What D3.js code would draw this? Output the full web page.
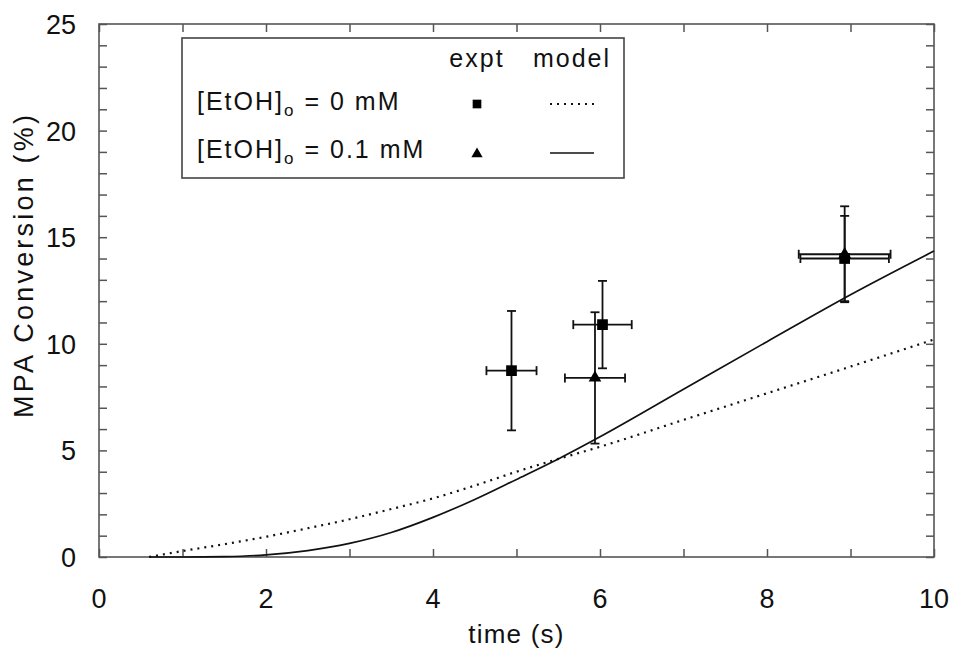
<!DOCTYPE html>
<html lang="en">
<head>
  <meta charset="UTF-8" />
  <title>MPA Conversion vs time</title>
  <script src="https://d3js.org/d3.v7.min.js"></script>
  <style>
    html, body {
      margin: 0;
      overflow: hidden;
      background-color: #ffffff;
      font-family: 'Liberation Sans', Arial, sans-serif;
    }
    svg {
      display: block;
    }
    .tick-label {
      font-size: 27px;
      fill: #111;
    }
    .axis-label {
      font-size: 26px;
      fill: #111;
    }
    .legend-text {
      font-size: 25px;
      letter-spacing: 2px;
      fill: #111;
    }
  </style>
</head>
<body>
  <div id="chart"></div>

  <script>
    // model curves
    const modelTime0 = [0.6, 1, 1.5, 2, 2.5, 3, 3.5, 4, 4.5, 5, 5.5, 6, 7, 8, 9, 10];
    const modelConv0 = [0, 0.28, 0.6, 0.95, 1.35, 1.77, 2.25, 2.75, 3.35, 4.0, 4.6, 5.17, 6.43, 7.68, 8.93, 10.2];
    const modelTime1 = [0.6, 1, 1.5, 2, 2.5, 3, 3.5, 4, 4.5, 5, 5.5, 6, 7, 8, 9, 10];
    const modelConv1 = [0, 0, 0.02, 0.1, 0.3, 0.64, 1.15, 1.86, 2.7, 3.64, 4.6, 5.64, 7.87, 10.1, 12.3, 14.35];

    // experimental points, [EtOH]o = 0 mM (squares)
    const exptTime0 = [4.94, 6.03, 8.93];
    const exptConv0 = [8.74, 10.9, 14.0];
    const exptTimeErr0 = [0.3, 0.35, 0.53];
    const exptConvErr0 = [2.8, 2.05, 2.0];

    // experimental points, [EtOH]o = 0.1 mM (triangles)
    const exptTime1 = [5.94, 8.93];
    const exptConv1 = [8.4, 14.2];
    const exptTimeErr1 = [0.36, 0.55];
    const exptConvErr1 = [3.08, 2.25];

    const xTicks = d3.range(0, 11, 1);
    const yTicks = d3.range(0, 26, 1);
    const xLabels = [0, 2, 4, 6, 8, 10];
    const yLabels = [0, 5, 10, 15, 20, 25];

    const width = 954, height = 651;
    const margin = { top: 24, right: 20, bottom: 94, left: 99 };
    const innerWidth = width - margin.left - margin.right;
    const innerHeight = height - margin.top - margin.bottom;

    const svg = d3.select("#chart").append("svg")
      .attr("width", width)
      .attr("height", height);

    const g = svg.append("g")
      .attr("transform", `translate(${margin.left},${margin.top})`);

    const xScale = d3.scaleLinear().domain([0, 10]).range([0, innerWidth]);
    const yScale = d3.scaleLinear().domain([0, 25]).range([innerHeight, 0]);

    const frameColor = "#555";
    const tickLen = 8;

    // inward ticks on all four sides, no d3 labels (drawn separately)
    function tickOnly(a) {
      a.select(".domain").remove();
      a.selectAll("text").remove();
    }
    g.append("g").attr("class", "x-axis")
      .attr("transform", `translate(0,${innerHeight})`)
      .call(d3.axisBottom(xScale).tickValues(xTicks).tickSize(-tickLen))
      .call(tickOnly);
    g.append("g")
      .call(d3.axisTop(xScale).tickValues(xTicks).tickSize(-tickLen))
      .call(tickOnly);
    g.append("g").attr("class", "y-axis")
      .call(d3.axisLeft(yScale).tickValues(yTicks).tickSize(-tickLen))
      .call(tickOnly);
    g.append("g")
      .attr("transform", `translate(${innerWidth},0)`)
      .call(d3.axisRight(yScale).tickValues(yTicks).tickSize(-tickLen))
      .call(tickOnly);
    g.selectAll(".tick line").attr("stroke", frameColor).attr("stroke-width", 1.5);

    // frame
    g.append("rect")
      .attr("width", innerWidth)
      .attr("height", innerHeight)
      .attr("fill", "none")
      .attr("stroke", frameColor)
      .attr("stroke-width", 1.6);

    // tick labels
    g.selectAll(".xl").data(xLabels).enter().append("text")
      .attr("class", "tick-label")
      .attr("x", d => xScale(d))
      .attr("y", innerHeight + 51)
      .attr("text-anchor", "middle")
      .text(d => d);
    g.selectAll(".yl").data(yLabels).enter().append("text")
      .attr("class", "tick-label")
      .attr("x", -23)
      .attr("y", d => yScale(d) + 10)
      .attr("text-anchor", "end")
      .text(d => d);

    // axis titles
    g.append("text")
      .attr("class", "axis-label")
      .attr("x", innerWidth / 2)
      .attr("y", innerHeight + 86)
      .attr("text-anchor", "middle")
      .style("letter-spacing", "1.2px")
      .text("time (s)");
    g.append("text")
      .attr("class", "axis-label")
      .attr("transform", `translate(${33 - margin.left},${yScale(13.7)}) rotate(-90)`)
      .attr("text-anchor", "middle")
      .style("font-size", "27px")
      .style("letter-spacing", "3.2px")
      .text("MPA Conversion (%)");

    // model curves
    const line = d3.line()
      .x(d => xScale(d[0]))
      .y(d => yScale(d[1]))
      .curve(d3.curveMonotoneX);

    g.append("path")
      .datum(d3.zip(modelTime0, modelConv0))
      .attr("d", line)
      .attr("fill", "none")
      .attr("stroke", "#111")
      .attr("stroke-width", 2.2)
      .attr("stroke-dasharray", "2,5");

    g.append("path")
      .datum(d3.zip(modelTime1, modelConv1))
      .attr("d", line)
      .attr("fill", "none")
      .attr("stroke", "#111")
      .attr("stroke-width", 1.7);

    // error bars
    const capHalf = 4.5;
    function errorBars(times, convs, tErr, cErr) {
      const rows = times.map((t, i) => ({ t, c: convs[i], te: tErr[i], ce: cErr[i] }));
      const eb = g.append("g").attr("stroke", "#111").attr("stroke-width", 1.8).attr("fill", "none");
      rows.forEach(d => {
        eb.append("line")
          .attr("x1", xScale(d.t)).attr("x2", xScale(d.t))
          .attr("y1", yScale(d.c - d.ce)).attr("y2", yScale(d.c + d.ce));
        [d.c - d.ce, d.c + d.ce].forEach(v => {
          eb.append("line")
            .attr("x1", xScale(d.t) - capHalf).attr("x2", xScale(d.t) + capHalf)
            .attr("y1", yScale(v)).attr("y2", yScale(v));
        });
        eb.append("line")
          .attr("x1", xScale(d.t - d.te)).attr("x2", xScale(d.t + d.te))
          .attr("y1", yScale(d.c)).attr("y2", yScale(d.c));
        [d.t - d.te, d.t + d.te].forEach(v => {
          eb.append("line")
            .attr("x1", xScale(v)).attr("x2", xScale(v))
            .attr("y1", yScale(d.c) - capHalf).attr("y2", yScale(d.c) + capHalf);
        });
      });
      return rows;
    }

    const rows0 = errorBars(exptTime0, exptConv0, exptTimeErr0, exptConvErr0);
    const rows1 = errorBars(exptTime1, exptConv1, exptTimeErr1, exptConvErr1);

    const square = d3.symbol().type(d3.symbolSquare).size(115);
    const triangle = d3.symbol().type(d3.symbolTriangle).size(70);

    g.selectAll(".sq").data(rows0).enter().append("path")
      .attr("d", square)
      .attr("transform", d => `translate(${xScale(d.t)},${yScale(d.c)})`)
      .attr("fill", "#000");
    g.selectAll(".tri").data(rows1).enter().append("path")
      .attr("d", triangle)
      .attr("transform", d => `translate(${xScale(d.t)},${yScale(d.c)})`)
      .attr("fill", "#000");

    // legend
    const legend = svg.append("g").attr("transform", "translate(182,38)");
    legend.append("rect")
      .attr("width", 442)
      .attr("height", 140)
      .attr("fill", "#fff")
      .attr("stroke", "#444")
      .attr("stroke-width", 1.6);
    legend.append("text").attr("class", "legend-text")
      .attr("x", 295).attr("y", 29).attr("text-anchor", "middle").text("expt");
    legend.append("text").attr("class", "legend-text")
      .attr("x", 390).attr("y", 29).attr("text-anchor", "middle").text("model");

    const legendRows = ["0", "0.1"];
    legendRows.forEach((conc, i) => {
      const yy = 72 + i * 48;
      const t = legend.append("text").attr("class", "legend-text")
        .attr("x", 15).attr("y", yy);
      t.append("tspan").text("[EtOH]");
      t.append("tspan").attr("dy", 6).attr("font-size", 17).text("o");
      t.append("tspan").attr("dy", -6).text(` = ${conc} mM`);
    });
    legend.append("path").attr("d", d3.symbol().type(d3.symbolSquare).size(75))
      .attr("transform", "translate(295,66)").attr("fill", "#000");
    legend.append("path").attr("d", d3.symbol().type(d3.symbolTriangle).size(55))
      .attr("transform", "translate(295,116)").attr("fill", "#000");
    legend.append("line")
      .attr("x1", 368).attr("x2", 412).attr("y1", 66).attr("y2", 66)
      .attr("stroke", "#111").attr("stroke-width", 2).attr("stroke-dasharray", "2,5");
    legend.append("line")
      .attr("x1", 368).attr("x2", 412).attr("y1", 115).attr("y2", 115)
      .attr("stroke", "#111").attr("stroke-width", 1.7);
  </script>
</body>
</html>
